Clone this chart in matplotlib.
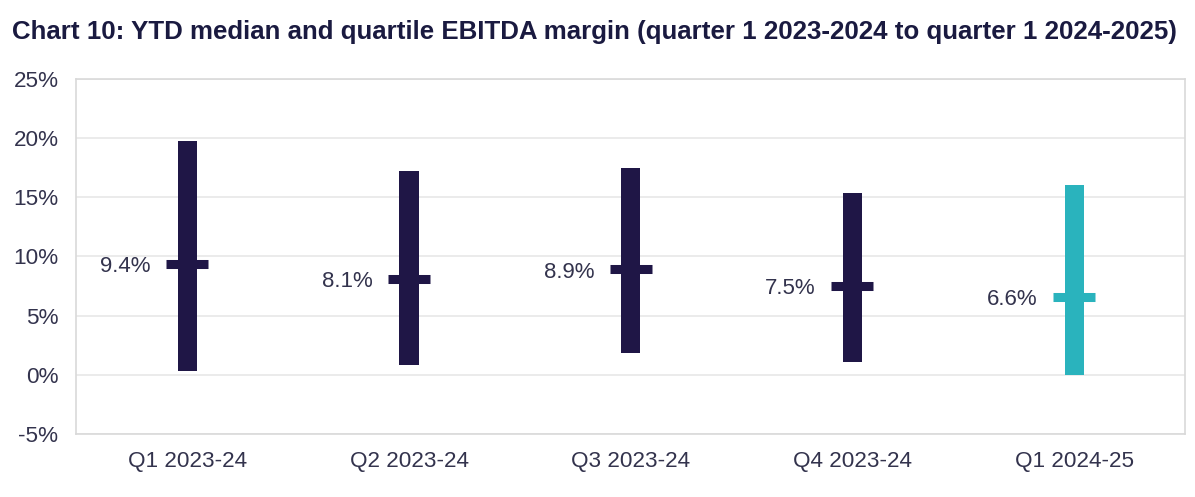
import matplotlib
matplotlib.use("Agg")
import matplotlib.pyplot as plt
from matplotlib.ticker import FuncFormatter

# dados
quarters = ["Q1 2023-24", "Q2 2023-24", "Q3 2023-24", "Q4 2023-24", "Q1 2024-25"]
lower_q = [0.3, 0.8, 1.8, 1.1, 0.0]
upper_q = [19.8, 17.2, 17.5, 15.4, 16.0]
median = [9.4, 8.1, 8.9, 7.5, 6.6]
bar_colors = ["#1F1646", "#1F1646", "#1F1646", "#1F1646", "#2AB3BD"]

plt.rcParams["font.family"] = ["Liberation Sans", "DejaVu Sans"]
text_color = "#33334D"

fig = plt.figure(figsize=(11.95, 4.97), dpi=100)
ax = fig.add_axes([0.064, 0.127, 0.9276, 0.714])

x = list(range(len(quarters)))
heights = [u - l for u, l in zip(upper_q, lower_q)]
ax.bar(x, heights, bottom=lower_q, width=0.086, color=bar_colors, zorder=3)

# marcador da mediana
for xi, m, c in zip(x, median, bar_colors):
    ax.hlines(m, xi - 0.095, xi + 0.095, colors=c, linewidth=6.5, zorder=4)
    ax.text(xi - 0.165, m - 0.25, f"{m}%", ha="right", va="center",
            fontsize=16, color=text_color)

ax.set_xlim(-0.5, len(quarters) - 0.5)
ax.set_ylim(-5, 25)
ax.set_yticks(range(-5, 26, 5))
ax.yaxis.set_major_formatter(FuncFormatter(lambda v, p: f"{int(v)}%"))
ax.set_xticks(x)
ax.set_xticklabels(quarters)
ax.tick_params(axis="both", length=0, labelsize=16.2, colors=text_color)
ax.tick_params(axis="y", pad=13)
ax.tick_params(axis="x", pad=12)

ax.grid(axis="y", color="#E8E8E8", linewidth=1.2, zorder=0)
for s in ax.spines.values():
    s.set_color("#D9D9D9")
    s.set_linewidth(1.2)

fig.text(0.01, 0.936, "Chart 10: YTD median and quartile EBITDA margin (quarter 1 2023-2024 to quarter 1 2024-2025)",
         fontsize=18.6, fontweight="bold", color="#1A1A40", ha="left", va="center")

plt.savefig("out.png", dpi=100)
